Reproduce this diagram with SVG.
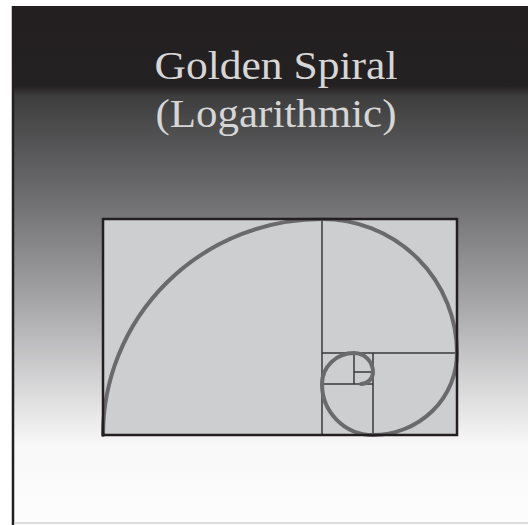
<svg xmlns="http://www.w3.org/2000/svg" width="528" height="525" viewBox="0 0 528 525">
  <defs>
    <linearGradient id="bg" gradientUnits="userSpaceOnUse" x1="0" y1="6" x2="0" y2="523">
      <stop offset="0" stop-color="#231f20"/>
      <stop offset="0.155" stop-color="#242122"/>
      <stop offset="0.175" stop-color="#3e3e3f"/>
      <stop offset="0.375" stop-color="#6f6f71"/>
      <stop offset="0.57" stop-color="#a5a5a7"/>
      <stop offset="0.765" stop-color="#e0e0e1"/>
      <stop offset="0.85" stop-color="#f8f8f8"/>
      <stop offset="1" stop-color="#fdfdfd"/>
    </linearGradient>
  </defs>
  <style>
    .title { font-family: "Liberation Serif", "DejaVu Serif", serif; font-size: 41px; fill: #d6d6d6; }
    .grid { stroke: #3a3839; stroke-width: 1.5; fill: none; }
    .spiral { stroke: #6a6a6c; stroke-width: 4; fill: none; stroke-linecap: round; }
  </style>
  <rect x="0" y="0" width="528" height="525" fill="#ffffff"/>
  <rect id="background" x="12" y="6" width="516" height="517" fill="url(#bg)"/>
  <line x1="13" y1="6" x2="13" y2="525" stroke="#231f20" stroke-width="2.5"/>
  <line x1="14" y1="523" x2="528" y2="523" stroke="#d0d0d0" stroke-width="1.5"/>
  <g id="title">
    <text class="title" x="276" y="79" text-anchor="middle" textLength="243" lengthAdjust="spacingAndGlyphs">Golden Spiral</text>
    <text class="title" x="276" y="127" text-anchor="middle" textLength="241" lengthAdjust="spacingAndGlyphs">(Logarithmic)</text>
  </g>
  <g id="golden-rectangle">
    <rect x="103" y="219" width="354" height="216" fill="#cdced0"/>
    <g id="squares" class="grid">
      <line x1="322" y1="219" x2="322" y2="435"/>
      <line x1="322" y1="353" x2="457" y2="353"/>
      <line x1="373" y1="353" x2="373" y2="435"/>
      <line x1="322" y1="384" x2="373" y2="384"/>
      <line x1="354" y1="353" x2="354" y2="384"/>
      <line x1="354" y1="372" x2="373" y2="372"/>
    </g>
    <path id="spiral" class="spiral" d="M103,435 A219,216 0 0 1 322,219 A135,134 0 0 1 457,353 A84,82 0 0 1 373,435 A51,51 0 0 1 322,384 A32,31 0 0 1 354,353 A19,19 0 0 1 373,372 A12,12 0 0 1 361,384"/>
    <rect x="103" y="219" width="354" height="216" fill="none" stroke="#231f20" stroke-width="2.5"/>
  </g>
</svg>
